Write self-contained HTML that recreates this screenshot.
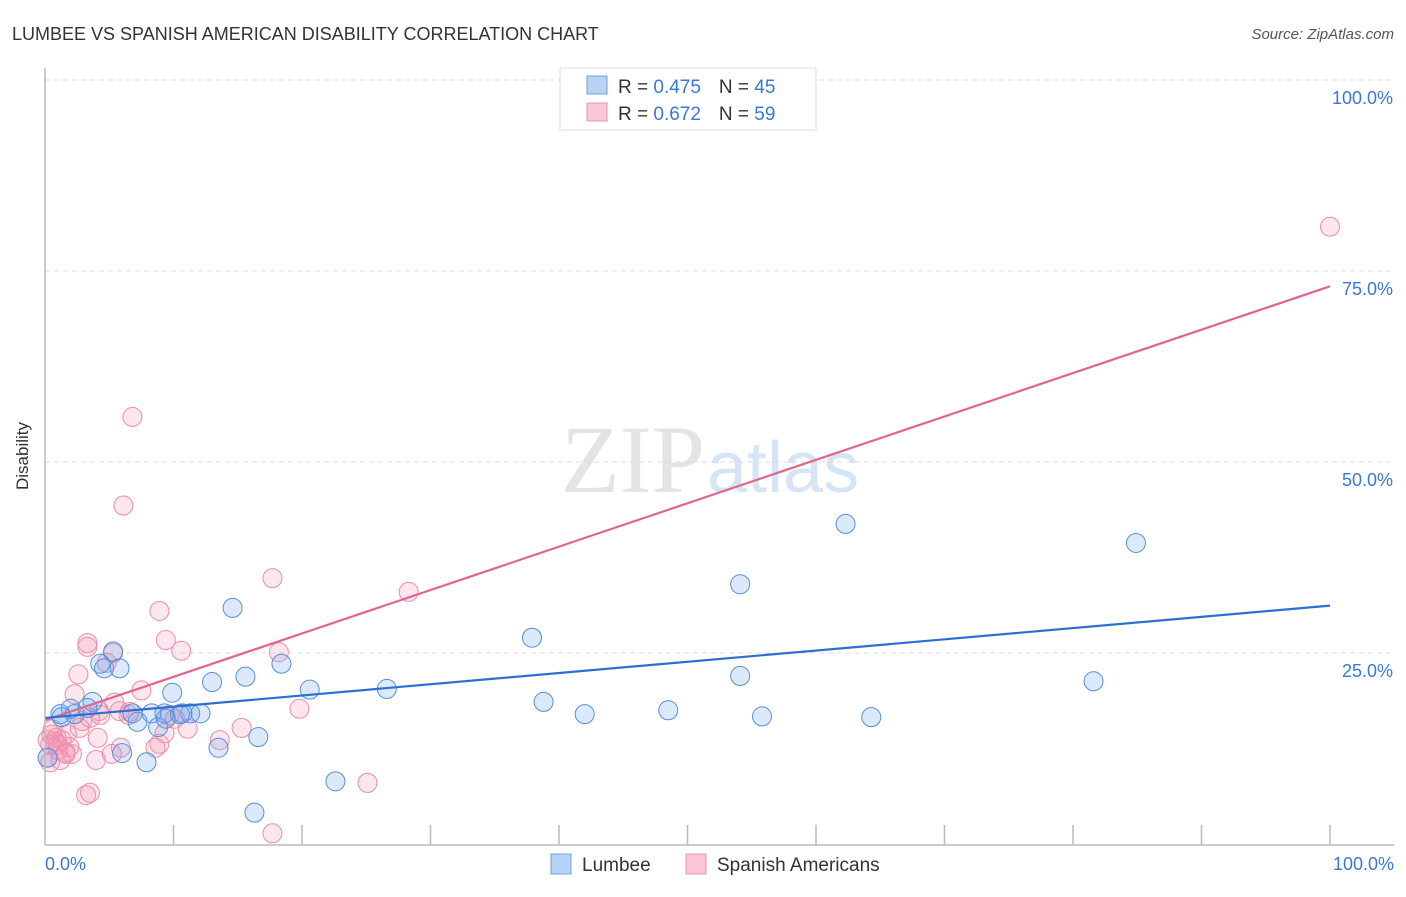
<!DOCTYPE html>
<html><head><meta charset="utf-8"><style>
body{margin:0;background:#fff;font-family:"Liberation Sans",sans-serif;}
svg text{font-family:"Liberation Sans",sans-serif;}
</style></head><body>
<svg width="1406" height="892" id="c">
<text x="12" y="40" font-size="18" fill="#333">LUMBEE VS SPANISH AMERICAN DISABILITY CORRELATION CHART</text>
<text x="1394" y="39" font-size="15" fill="#555" font-style="italic" text-anchor="end">Source: ZipAtlas.com</text>
<text x="28" y="456" font-size="17" fill="#333" transform="rotate(-90 28 456)" text-anchor="middle">Disability</text>
<text x="705" y="492" font-size="96" fill="#e4e4e4" text-anchor="end" style="font-family:'Liberation Serif',serif">ZIP</text>
<text x="707" y="492" font-size="72" fill="#d6e5f6">atlas</text>
<g id="grid"></g><g id="pts"></g><g id="lines"></g>
<line x1="45" y1="68" x2="45" y2="845" stroke="#bbb" stroke-width="1.5"/>
<line x1="45" y1="845" x2="1394" y2="845" stroke="#bbb" stroke-width="1.5"/>
<text x="45" y="870" font-size="18" fill="#3a78d4">0.0%</text>
<text x="1394" y="870" font-size="18" fill="#3a78d4" text-anchor="end">100.0%</text>
<g>
<rect x="560" y="68" width="256" height="62" fill="#fff" stroke="#ddd"/>
<rect x="587" y="76" width="20" height="18" fill="#b9d3f5" stroke="#6a9fe0"/>
<rect x="587" y="103" width="20" height="18" fill="#fbc6d6" stroke="#ee93b0"/>
<text x="618" y="93" font-size="19" fill="#333">R = <tspan fill="#3a78d4">0.475</tspan><tspan dx="18">N = </tspan><tspan fill="#3a78d4">45</tspan></text>
<text x="618" y="120" font-size="19" fill="#333">R = <tspan fill="#3a78d4">0.672</tspan><tspan dx="18">N = </tspan><tspan fill="#3a78d4">59</tspan></text>
</g>
<g>
<rect x="551" y="854" width="20" height="20" fill="#b9d3f5" stroke="#6a9fe0"/>
<text x="582" y="871" font-size="19" fill="#333">Lumbee</text>
<rect x="686" y="854" width="20" height="20" fill="#fbc6d6" stroke="#ee93b0"/>
<text x="717" y="871" font-size="19" fill="#333">Spanish Americans</text>
</g>
</svg>
<script>
const yTicks=[25,50,75,100];
const yTickLabels=["25.0%","50.0%","75.0%","100.0%"];
const xTicks=[10,20,30,40,50,60,70,80,90,100];
const lumbeeX=[1.2,2.0,3.7,3.3,4.3,4.6,5.3,5.8,6.8,7.2,8.3,8.8,9.3,9.9,10.7,11.3,12.1,13.0,13.5,14.6,15.6,16.6,16.3,18.4,20.6,22.6,26.6,37.9,38.8,42.0,48.5,54.1,54.1,55.8,62.3,64.3,81.6,84.9,0.2,6.0,7.9,1.3,2.3,9.4,10.5];
const lumbeeY=[17.0,17.7,18.6,17.8,23.6,23.0,25.2,23.0,17.1,16.0,17.1,15.3,17.1,19.8,17.1,17.1,17.1,21.2,12.6,30.9,21.9,14.0,4.1,23.6,20.2,8.2,20.3,27.0,18.6,17.0,17.5,34.0,22.0,16.7,41.9,16.6,21.3,39.4,11.3,11.9,10.7,16.6,17.0,16.4,17.0];
const spanX=[100,6.8,6.1,17.7,28.3,8.9,3.3,3.3,5.3,9.4,10.6,18.2,2.6,7.5,2.3,4.8,5.4,4.2,5.8,6.5,2.9,4.3,9.7,19.8,10.1,11.1,15.3,4.1,13.6,0.5,0.9,1.3,1.7,0.8,0.2,0.4,1.0,1.6,2.1,3.97,5.9,5.2,8.9,8.6,1.2,0.2,0.4,3.2,3.5,25.1,17.7,9.3,2.7,3.5,6.6,1.9,1.0,1.6,0.6];
const spanY=[80.8,55.9,44.3,34.8,33.0,30.5,26.3,25.8,25.0,26.7,25.3,25.1,22.2,20.1,19.6,23.7,18.5,17.4,17.4,16.9,16.1,16.9,16.9,17.7,16.4,15.1,15.2,13.9,13.6,14.3,13.9,13.6,14.4,13.4,13.6,13.0,12.3,12.0,11.8,11.0,12.6,11.8,13.1,12.6,11.0,11.3,10.7,6.4,6.7,8.0,1.4,14.5,15.2,16.5,17.3,12.7,13.0,11.8,15.0];
const blueLine=[16.5,31.2], pinkLine=[16.2,73.0];
const sx=v=>45+v*12.85, sy=v=>844-v*7.64;
const NS="http://www.w3.org/2000/svg";
function mk(t,a,p){const e=document.createElementNS(NS,t);for(const k in a)e.setAttribute(k,a[k]);p.appendChild(e);return e;}
const grid=document.getElementById('grid');
yTicks.forEach((v,i)=>{
 const l=mk('line',{x1:45,x2:1394,y1:sy(v),y2:sy(v),stroke:'#ddd','stroke-dasharray':'5,4'},grid);
 
 
 const t=mk('text',{x:1393,y:sy(v)+24,'font-size':18,fill:'#3a78d4','text-anchor':'end'},grid);
 t.textContent=yTickLabels[i];
 
 
});
xTicks.forEach(v=>{
 const l=mk('line',{x1:sx(v),x2:sx(v),y1:825,y2:845,stroke:'#bbb','stroke-width':1.5},grid);
 
 
});
const pts=document.getElementById('pts');
spanX.forEach((x,i)=>{
 const c=mk('circle',{cx:sx(x),cy:sy(spanY[i]),r:9.5,fill:'rgba(245,150,180,0.24)',stroke:'#eb8eab','stroke-width':1},pts);
 
 
});
lumbeeX.forEach((x,i)=>{
 const c=mk('circle',{cx:sx(x),cy:sy(lumbeeY[i]),r:9.5,fill:'rgba(110,165,235,0.24)',stroke:'#5590db','stroke-width':1},pts);
 
 
});
const lines=document.getElementById('lines');
const pl=mk('line',{x1:sx(0),y1:sy(pinkLine[0]),x2:sx(100),y2:sy(pinkLine[1]),stroke:'#e4638f','stroke-width':2.2},lines);


const bl=mk('line',{x1:sx(0),y1:sy(blueLine[0]),x2:sx(100),y2:sy(blueLine[1]),stroke:'#2a70d4','stroke-width':2.2},lines);


</script>
</body></html>
